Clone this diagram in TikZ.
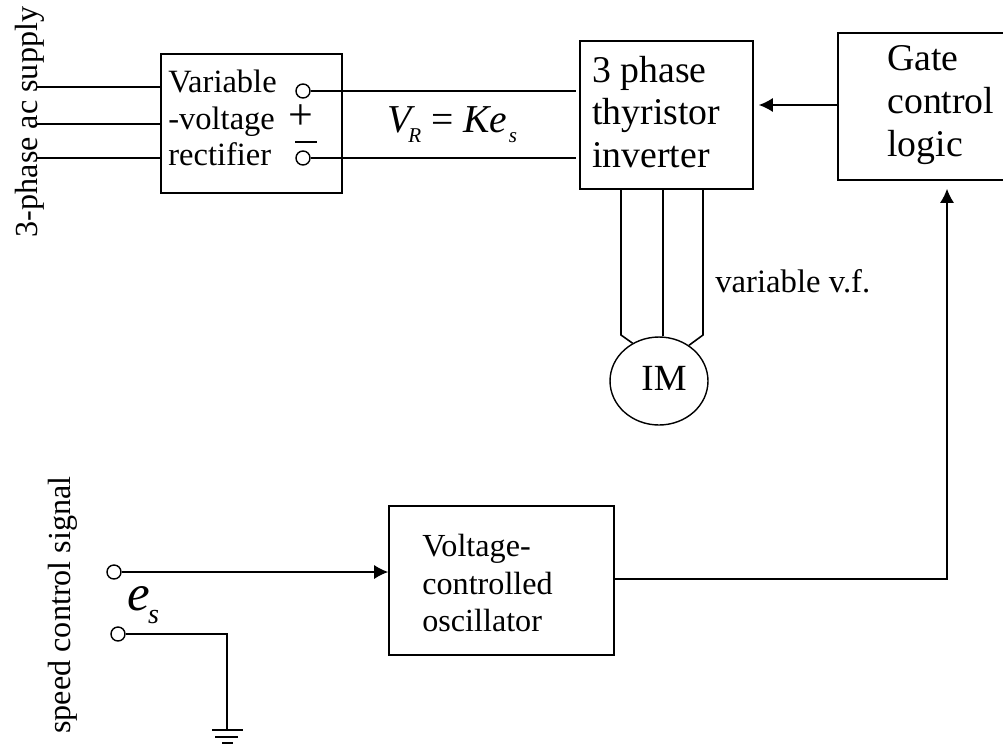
\documentclass[tikz,border=0pt]{standalone}
\usepackage{fontspec}
\setmainfont{Liberation Serif}
\usetikzlibrary{shapes.geometric,arrows.meta}
\newcommand{\lowsub}[3]{\raisebox{#1}{\fontsize{#2}{#2}\selectfont\textit{#3}}}
\tikzset{
    wire/.style={line width=0.9pt},
    blockbox/.style={draw,line width=0.9pt,minimum width=#1,inner sep=0pt},
    terminal/.style={draw,circle,fill=white,line width=0.8pt,minimum size=0.28cm,inner sep=0pt},
    arrowwire/.style={wire,-{Latex[length=0.28cm,width=0.28cm]}},
    label/.style={inner sep=0pt,align=left},
}
\begin{document}
\begin{tikzpicture}[x=0.02cm,y=-0.02cm]
    \useasboundingbox (0,0) rectangle (1003,744);
    % blocks
    \node[blockbox=3.62cm,minimum height=2.78cm] (rectbox) at (251.5,123.5) {};
    \node[blockbox=3.46cm,minimum height=2.96cm] (thybox) at (666.5,115) {};
    \node[blockbox=3.4cm,minimum height=2.94cm] (gatebox) at (923,106.5) {};
    \node[blockbox=4.5cm,minimum height=2.98cm] (vcobox) at (501.5,580.5) {};
    \node[draw,ellipse,line width=0.8pt,minimum width=1.96cm,minimum height=1.76cm,inner sep=0pt] (motor) at (659,381) {};
    % block texts
    \node[label,anchor=west,font=\fontsize{18.5}{20.7}\selectfont] at (168,118) {Variable\\-voltage\\rectifier};
    \node[label,anchor=west,font=\fontsize{21.5}{24.4}\selectfont] at (592,112) {3 phase\\thyristor\\inverter};
    \node[label,anchor=west,font=\fontsize{21.5}{24.5}\selectfont] at (887,105) {Gate\\control\\logic};
    \node[label,anchor=west,font=\fontsize{18.3}{21.5}\selectfont] at (422,583) {Voltage-\\controlled\\oscillator};
    \node[label,font=\fontsize{21}{22}\selectfont] at (664,378) {IM};
    % supply side
    \coordinate (supa) at (36,87);
    \coordinate (supb) at (36,124);
    \coordinate (supc) at (36,158);
    \draw[wire] (supa) -- (supa -| rectbox.west);
    \draw[wire] (supb) -- (supb -| rectbox.west);
    \draw[wire] (supc) -- (supc -| rectbox.west);
    \node[label,rotate=90,font=\fontsize{18.3}{20}\selectfont] at (30,122) {3-phase ac supply};
    % dc link
    \node[terminal] (posterm) at (303,91) {};
    \node[terminal] (negterm) at (303,158) {};
    \draw[wire,shorten >=0.06cm] (posterm) -- (posterm -| thybox.west);
    \draw[wire,shorten >=0.06cm] (negterm) -- (negterm -| thybox.west);
    \node[label,font=\fontsize{25}{26}\selectfont] at (301,117) {+};
    \coordinate (nega) at (295,142);
    \coordinate (negb) at (317,142);
    \draw[line width=0.7pt] (nega) -- (negb);
    \node[label,anchor=base west,font=\fontsize{22.5}{24}\selectfont] at (387,132) {\textit{V}\kern-4pt\lowsub{-6.2pt}{12}{R} = \textit{Ke}\kern1pt\lowsub{-6.2pt}{12}{s}};
    % gate signal
    \coordinate (gatein) at (gatebox.west |- 0,105);
    \draw[arrowwire,shorten >=0.1cm] (gatein) -- (gatein -| thybox.east);
    % motor leads
    \coordinate (leada) at (621,335);
    \coordinate (leadb) at (663,336);
    \coordinate (leadc) at (703,335);
    \draw[wire] (leada |- thybox.south) -- (leada) -- (motor.125);
    \draw[wire] (leadb |- thybox.south) -- (leadb);
    \draw[wire] (leadc |- thybox.south) -- (leadc) -- (motor.50);
    \node[label,anchor=west,font=\fontsize{18.6}{20}\selectfont] at (715,281) {variable v.f.};
    % speed signal
    \node[terminal] (esup) at (114,572) {};
    \node[terminal] (esdown) at (118,634) {};
    \draw[arrowwire] (esup) -- (esup -| vcobox.west);
    \coordinate (gndtop) at (227,730);
    \draw[wire] (esdown) -- (esdown -| gndtop) -- (gndtop);
    \draw[wire] (212,730) -- (243,730);
    \draw[wire] (215,737) -- (238,737);
    \draw[wire] (222,743) -- (233,743);
    \node[label,anchor=base west,font=\fontsize{29}{32}\selectfont] at (127,610) {\textit{e}\kern-1pt\lowsub{-7.4pt}{16}{s}};
    \node[label,rotate=90,font=\fontsize{18.3}{20}\selectfont] at (63,605) {speed control signal};
    % vco output
    \coordinate (vcoout) at (vcobox.east |- 0,579);
    \coordinate (vcobend) at (947,579);
    \draw[arrowwire,shorten >=0.16cm] (vcoout) -- (vcobend) -- (vcobend |- gatebox.south);
\end{tikzpicture}
\end{document}
